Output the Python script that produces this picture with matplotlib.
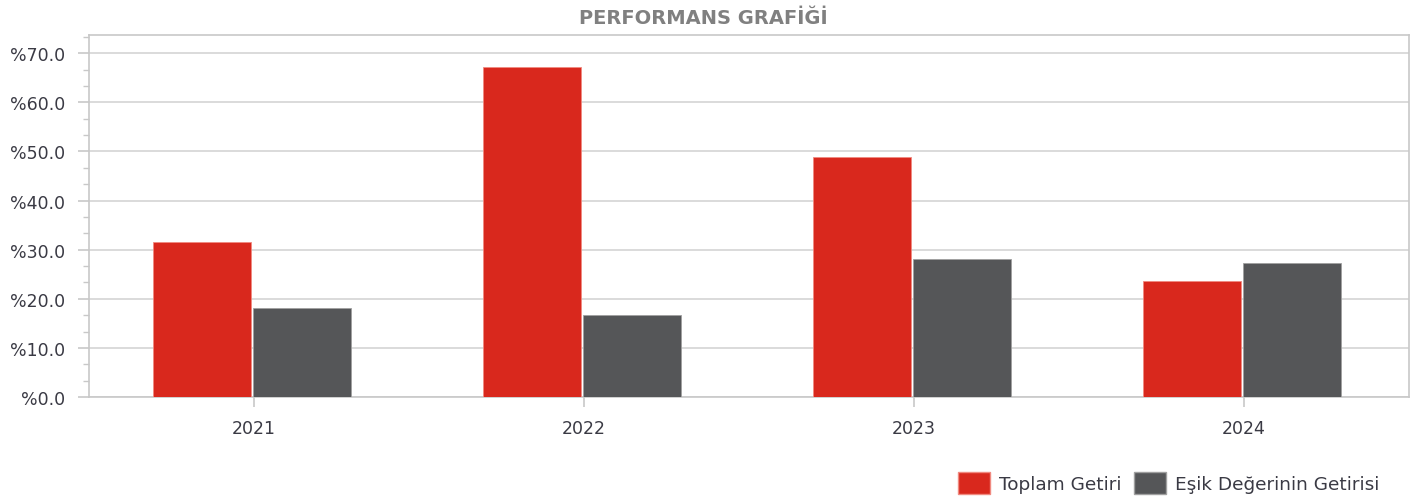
import matplotlib
matplotlib.use("Agg")
import matplotlib.pyplot as plt
import numpy as np
from matplotlib.ticker import MultipleLocator, FuncFormatter
from matplotlib.patches import Patch

years = ["2021", "2022", "2023", "2024"]
toplam_getiri = [31.5, 67.1, 48.9, 23.7]
esik_getiri = [18.1, 16.7, 28.1, 27.3]
series_names = ["Toplam Getiri", "Eşik Değerinin Getirisi"]

RED = "#D9281D"
GRAY = "#555658"
TXT = "#3a3a44"
GRID = "#d4d4d4"

fig = plt.figure(figsize=(14.16, 5.02), dpi=100)
ax = fig.add_axes([89/1416, 1-398/502, 1320/1416, 362/502])

x = np.arange(len(years))
w = 0.297
ax.bar(x - 0.159, toplam_getiri, width=w, color=RED, edgecolor="#f08a80", linewidth=0.6, zorder=3)
ax.bar(x + 0.144, esik_getiri, width=w, color=GRAY, edgecolor="#a0a0a0", linewidth=0.6, zorder=3)

ax.set_xlim(-0.5, 3.5)
ax.set_ylim(0, 73.7)
ax.yaxis.set_major_locator(MultipleLocator(10))
ax.yaxis.set_minor_locator(MultipleLocator(10/3))
ax.yaxis.set_major_formatter(FuncFormatter(lambda v, p: f"%{v:.1f}"))
ax.set_xticks(x)
ax.set_xticklabels(years)
ax.grid(axis="y", which="major", color=GRID, linewidth=1.2, zorder=0)
for s in ax.spines.values():
    s.set_color("#c8c8c8")
    s.set_linewidth(1.2)
ax.tick_params(axis="y", which="major", length=8, width=1.2, color="#c8c8c8", labelsize=12.5, labelcolor=TXT, pad=9)
ax.tick_params(axis="y", which="minor", length=4.3, width=1.0, color="#c8c8c8")
ax.tick_params(axis="x", length=7, width=1.2, color="#c8c8c8", labelsize=12.5, labelcolor=TXT, pad=8.5)

fig.text(703.5/1416, 1-18/502, "PERFORMANS GRAFİĞİ", ha="center", va="center",
         fontsize=14, fontweight="bold", color="#808080")

handles = [Patch(facecolor=RED, edgecolor="#f08a80"), Patch(facecolor=GRAY, edgecolor="#a0a0a0")]
fig.legend(handles, series_names, loc="center right", bbox_to_anchor=(1379/1416, 1-484/502),
           ncol=2, frameon=False, fontsize=13.3, labelcolor=TXT,
           handlelength=1.75, handleheight=1.4, handletextpad=0.45, columnspacing=0.7,
           borderaxespad=0.0, borderpad=0.0)

fig.savefig("out.png", dpi=100)
